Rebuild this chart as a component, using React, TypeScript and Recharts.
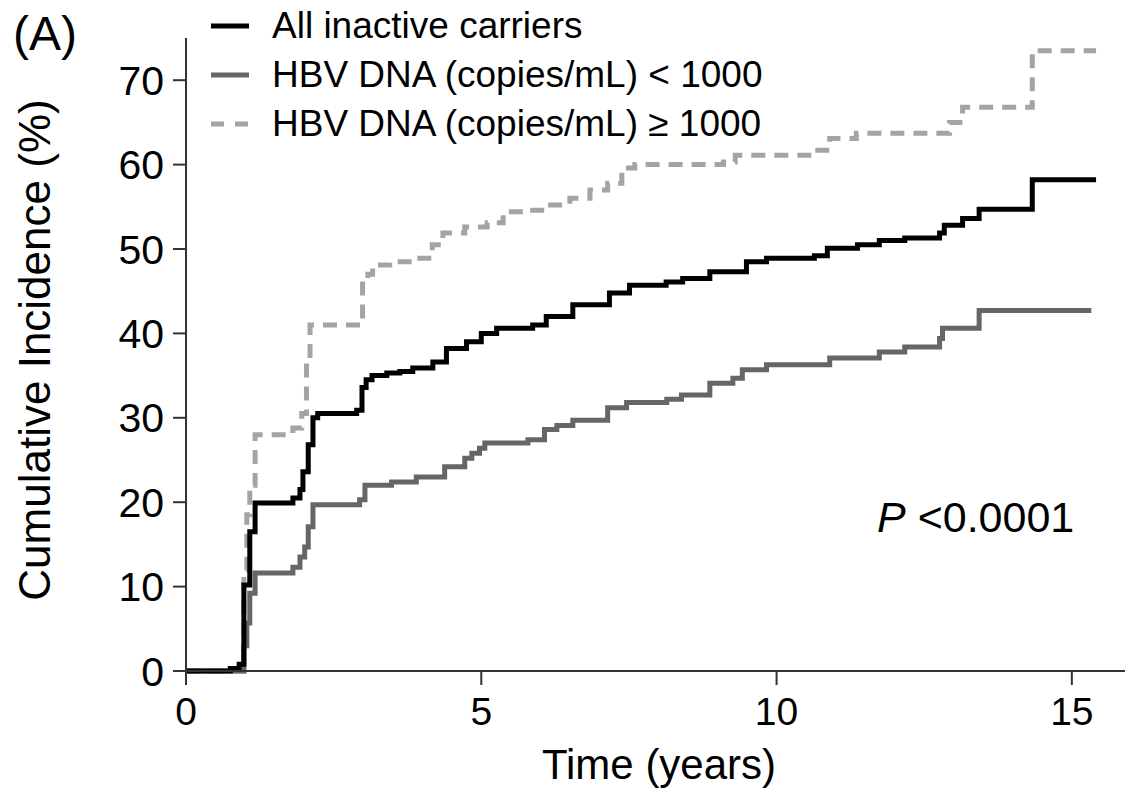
import { Legend, Line, LineChart, XAxis, YAxis } from "recharts"

// follow-up time (years) and cumulative incidence (%) for each group
const allTimes = [0, 0.75, 0.9, 0.98, 1.08, 1.17, 1.81, 1.93, 1.98, 2.07, 2.15, 2.23, 2.89, 2.98, 3.05, 3.15, 3.4, 3.62, 3.84, 4.18, 4.41, 4.75, 5.0, 5.26, 5.87, 6.1, 6.55, 7.17, 7.51, 8.13, 8.41, 8.87, 9.49, 9.83, 10.64, 10.86, 11.37, 11.74, 12.17, 12.76, 12.84, 13.15, 13.43, 14.33, 15.41]
const allValues = [0, 0.3, 0.8, 10.2, 16.5, 19.9, 20.5, 21.5, 23.6, 26.8, 30.0, 30.5, 30.9, 33.6, 34.5, 35.0, 35.3, 35.5, 35.9, 36.6, 38.2, 39.0, 40.0, 40.6, 41.0, 42.0, 43.4, 44.8, 45.7, 46.1, 46.5, 47.3, 48.5, 48.9, 49.2, 50.1, 50.5, 51.0, 51.3, 51.9, 52.8, 53.6, 54.7, 58.2, 58.2]

const lowTimes = [0, 0.98, 1.03, 1.08, 1.17, 1.81, 1.93, 2.01, 2.07, 2.15, 2.94, 3.03, 3.48, 3.9, 4.38, 4.72, 4.84, 4.97, 5.06, 5.79, 6.07, 6.28, 6.55, 7.14, 7.46, 8.14, 8.39, 8.87, 9.26, 9.42, 9.83, 10.9, 11.74, 12.17, 12.76, 12.81, 13.43, 15.33]
const lowValues = [0, 3.0, 5.7, 9.2, 11.6, 12.3, 13.5, 14.7, 17.1, 19.7, 20.3, 22.0, 22.4, 23.0, 24.2, 25.2, 25.8, 26.4, 27.0, 27.4, 28.6, 29.1, 29.7, 31.2, 31.8, 32.2, 32.7, 34.1, 34.7, 35.7, 36.3, 37.1, 37.8, 38.4, 39.4, 40.6, 42.7, 42.7]

const highTimes = [0, 0.98, 1.03, 1.08, 1.17, 1.81, 1.96, 2.04, 2.1, 2.99, 3.08, 3.16, 3.25, 3.45, 3.9, 4.17, 4.35, 4.72, 5.1, 5.37, 5.79, 6.1, 6.5, 6.84, 7.14, 7.38, 7.6, 9.1, 9.3, 10.64, 10.9, 11.35, 12.93, 13.15, 14.33, 15.41]
const highValues = [0, 12.0, 18.5, 22.0, 28.0, 28.8, 30.5, 36.5, 41.0, 46.3, 47.0, 47.7, 48.1, 48.5, 48.9, 50.5, 51.9, 52.6, 53.1, 54.4, 54.6, 55.2, 56.0, 57.0, 57.8, 59.6, 60.0, 60.3, 61.1, 61.7, 63.1, 63.7, 65.0, 66.8, 73.5, 73.5]

const xTicks = [0, 5, 10, 15]
const yTicks = [0, 10, 20, 30, 40, 50, 60, 70]

const seriesNames = ["All inactive carriers", "HBV DNA (copies/mL) < 1000", "HBV DNA (copies/mL) \u2265 1000"]

const FONT = '"Liberation Sans", Arial, Helvetica, sans-serif'

const toRows = (times: number[], values: number[]) => times.map((t, i) => ({ t, v: values[i] }))

const series = [
  { name: seriesNames[0], data: toRows(allTimes, allValues), color: "#000000", dash: undefined },
  { name: seriesNames[1], data: toRows(lowTimes, lowValues), color: "#666666", dash: undefined },
  { name: seriesNames[2], data: toRows(highTimes, highValues), color: "#a4a4a4", dash: "14 9" },
]

const LegendBox = () => (
  <div style={{ fontFamily: FONT, fontSize: 37, color: "#000", lineHeight: "50px" }}>
    {series.map((s) => (
      <div key={s.name} style={{ display: "flex", alignItems: "center", height: 49 }}>
        <svg width={40} height={10} style={{ marginRight: 22 }}>
          <line x1={1} y1={5} x2={39} y2={5} stroke={s.color} strokeWidth={5} strokeDasharray={s.dash ? "13 11" : undefined} />
        </svg>
        <span>{s.name}</span>
      </div>
    ))}
  </div>
)

export default function App() {
  // drawing order puts the black curve on top
  const drawOrder = [series[2], series[1], series[0]]
  return (
    <div style={{ position: "absolute", left: 0, top: 0, width: 1125, height: 788, background: "#fff" }}>
      <LineChart width={1125} height={788} margin={{ top: 38, right: 0, bottom: 0, left: 126 }}>
        <XAxis
          type="number"
          dataKey="t"
          domain={[0, 15.9]}
          ticks={xTicks}
          height={117}
          tickSize={14}
          tickMargin={12}
          stroke="#333"
          strokeWidth={2}
          tick={{ fontFamily: FONT, fontSize: 39, fill: "#000" }}
          allowDataOverflow
        />
        <YAxis
          type="number"
          domain={[0, 75]}
          ticks={yTicks}
          width={60}
          tickSize={13}
          tickMargin={9}
          stroke="#333"
          strokeWidth={2}
          tick={{ fontFamily: FONT, fontSize: 41, fill: "#000" }}
        />
        {drawOrder.map((s) => (
          <Line
            key={s.name}
            data={s.data}
            dataKey="v"
            name={s.name}
            type="stepAfter"
            stroke={s.color}
            strokeWidth={5}
            strokeDasharray={s.dash}
            dot={false}
            activeDot={false}
            isAnimationActive={false}
          />
        ))}
        <Legend
          layout="vertical"
          align="center"
          verticalAlign="middle"
          content={() => <LegendBox />}
          wrapperStyle={{ left: 210, top: 1, width: "auto" }}
        />
      </LineChart>
      <svg width={1125} height={788} style={{ position: "absolute", left: 0, top: 0, pointerEvents: "none" }}>
        <text x={13} y={50} fontFamily={FONT} fontSize={48} fill="#000">(A)</text>
        <text x={50} y={350} fontFamily={FONT} fontSize={44} fill="#000" textAnchor="middle" transform="rotate(-90 50 350)">
          Cumulative Incidence (%)
        </text>
        <text x={659} y={779} fontFamily={FONT} fontSize={42} fill="#000" textAnchor="middle">Time (years)</text>
        <text x={877} y={532} fontFamily={FONT} fontSize={43} fill="#000">
          <tspan fontStyle="italic">P</tspan> {"<0.0001"}
        </text>
      </svg>
    </div>
  )
}
